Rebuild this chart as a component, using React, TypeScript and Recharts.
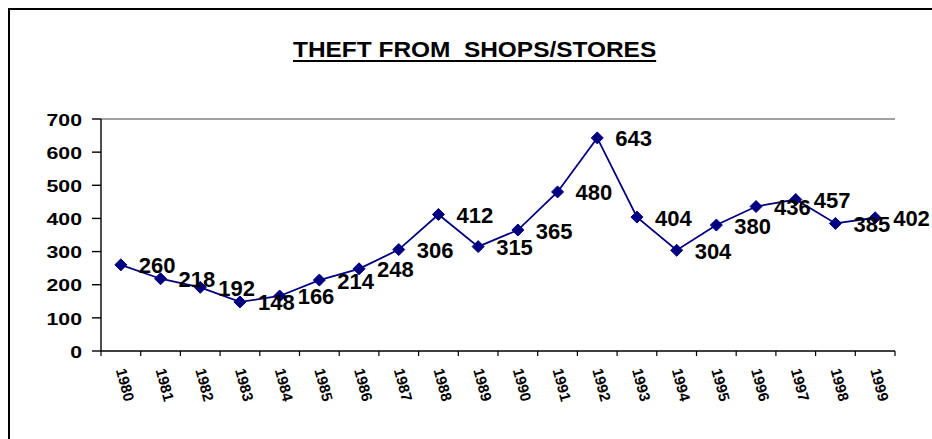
import React from 'react';
import { LineChart, Line, XAxis, YAxis, ReferenceLine, LabelList } from 'recharts';

const years = ['1980', '1981', '1982', '1983', '1984', '1985', '1986', '1987', '1988', '1989',
  '1990', '1991', '1992', '1993', '1994', '1995', '1996', '1997', '1998', '1999'];
const thefts = [260, 218, 192, 148, 166, 214, 248, 306, 412, 315, 365, 480, 643, 404, 304, 380, 436, 457, 385, 402];
const yTicks = [0, 100, 200, 300, 400, 500, 600, 700];
const title = 'THEFT FROM  SHOPS/STORES';

const data = years.map((year, i) => ({ year, value: thefts[i] }));

const FONT = 'Arial, "Liberation Sans", sans-serif';
const NAVY = '#000080';

const Diamond = (props: any) => {
  const { cx, cy } = props;
  if (cx == null || cy == null) return null;
  const r = 6;
  return (
    <polygon
      points={`${cx},${cy - r} ${cx + r},${cy} ${cx},${cy + r} ${cx - r},${cy}`}
      fill={NAVY}
      stroke={NAVY}
      strokeWidth={1}
    />
  );
};

const XTick = (props: any) => {
  const { x, y, payload } = props;
  const off = payload && payload.offset != null ? payload.offset : 0;
  const axisY = y - 7;
  const isLast = payload.value === years[years.length - 1];
  const px = x - 5;
  const py = y + 12;
  return (
    <g>
      <line x1={x - off} y1={axisY} x2={x - off} y2={axisY + 5} stroke="#000" strokeWidth={1.2} />
      {isLast && <line x1={x + off} y1={axisY} x2={x + off} y2={axisY + 5} stroke="#000" strokeWidth={1.2} />}
      <text
        x={px}
        y={py}
        transform={`rotate(75, ${px}, ${py})`}
        textAnchor="start"
        fontFamily={FONT}
        fontWeight="bold"
        fontSize={15}
        fill="#000"
      >
        {payload.value}
      </text>
    </g>
  );
};

const YTick = (props: any) => {
  const { x, y, payload } = props;
  return (
    <text
      transform={`translate(${x - 10}, ${y + 1}) scale(1.25, 1)`}
      textAnchor="end"
      dominantBaseline="central"
      fontFamily={FONT}
      fontWeight="bold"
      fontSize={17}
      fill="#000"
    >
      {payload.value}
    </text>
  );
};

const PointLabel = (props: any) => {
  const { x, y, value } = props;
  if (x == null || y == null) return null;
  return (
    <text
      x={x + 18}
      y={y + 1}
      dominantBaseline="central"
      fontFamily={FONT}
      fontWeight="bold"
      fontSize={22}
      fill="#000"
    >
      {value}
    </text>
  );
};

export default function App() {
  return (
    <div style={{ position: 'absolute', left: 0, top: 0, width: 932, height: 439, background: '#fff', overflow: 'hidden' }}>
      <div
        style={{
          position: 'absolute',
          left: 8,
          top: 8,
          width: 924,
          height: 431,
          borderTop: '2px solid #000',
          borderLeft: '2px solid #000',
          boxSizing: 'border-box',
        }}
      />
      <div
        style={{
          position: 'absolute',
          left: 0,
          top: 39,
          width: 950,
          textAlign: 'center',
          fontFamily: FONT,
          fontWeight: 'bold',
          fontSize: 22,
          lineHeight: '22px',
          whiteSpace: 'pre',
        }}
      >
        <span style={{ display: 'inline-block', transform: 'scaleX(1.11)', textDecoration: 'underline', textDecorationThickness: '2px', textUnderlineOffset: '3px' }}>
          {title}
        </span>
      </div>
      <div style={{ position: 'absolute', left: 0, top: 0 }}>
        <LineChart width={932} height={439} data={data} margin={{ top: 119, right: 37, bottom: 38, left: 0 }}>
          <ReferenceLine y={700} stroke="#808080" strokeWidth={1.5} ifOverflow="visible" />
          <XAxis
            dataKey="year"
            type="category"
            scale="band"
            height={50}
            interval={0}
            tickSize={5}
            tickMargin={2}
            tickLine={false}
            axisLine={{ stroke: '#000', strokeWidth: 1.4 }}
            tick={<XTick />}
          />
          <YAxis
            type="number"
            domain={[0, 700]}
            ticks={yTicks}
            interval={0}
            width={101}
            tickSize={9}
            tickMargin={0}
            axisLine={{ stroke: '#000', strokeWidth: 1.4 }}
            tickLine={{ stroke: '#000', strokeWidth: 1.4 }}
            tick={<YTick />}
          />
          <YAxis
            yAxisId="r"
            orientation="right"
            type="number"
            domain={[0, 700]}
            width={0}
            tick={false}
            tickLine={false}
            axisLine={{ stroke: '#808080', strokeWidth: 1.5 }}
          />
          <Line
            type="linear"
            dataKey="value"
            stroke={NAVY}
            strokeWidth={1.8}
            dot={<Diamond />}
            activeDot={false}
            isAnimationActive={false}
          >
            <LabelList dataKey="value" content={<PointLabel />} />
          </Line>
        </LineChart>
      </div>
    </div>
  );
}
